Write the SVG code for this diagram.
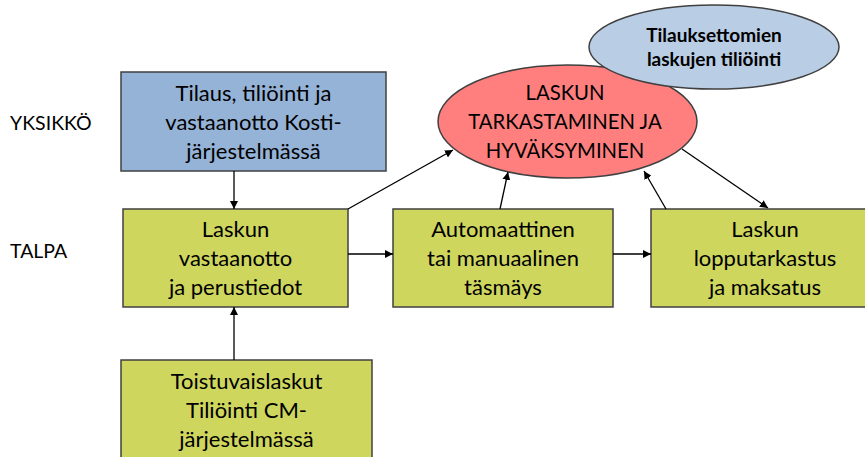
<svg xmlns="http://www.w3.org/2000/svg" width="865" height="457" viewBox="0 0 865 457">
<style>
text{font-family:Lato,"Open Sans","Liberation Sans",sans-serif;font-size:22px;fill:#000;text-anchor:middle}
.lbl{text-anchor:start;font-size:19.5px}
.cap{font-size:20.3px}
.b{font-weight:bold;font-size:19px}
.box{stroke:#404040;stroke-width:1.5}
.g{fill:#CED65E}
.conn line{stroke:#000;stroke-width:1.3;marker-end:url(#ah)}
</style>
<defs>
<marker id="ah" viewBox="0 0 10 10" refX="10" refY="5" markerWidth="8" markerHeight="8" markerUnits="userSpaceOnUse" orient="auto">
<path d="M0,0 L10,5 L0,10 z" fill="#000"/>
</marker>
</defs>
<rect width="865" height="457" fill="#fff"/>
<text class="lbl" x="10" y="130">YKSIKKÖ</text>
<text class="lbl" x="10" y="258">TALPA</text>
<g id="kosti">
<rect class="box" x="121" y="72" width="265" height="99" fill="#95B3D7"/>
<text x="253.5" y="101">Tilaus, tiliöinti ja</text>
<text x="253.5" y="130">vastaanotto Kosti-</text>
<text x="253.5" y="159">järjestelmässä</text>
</g>
<g id="vastaanotto">
<rect class="box g" x="123" y="209" width="225" height="98"/>
<text x="235.5" y="237">Laskun</text>
<text x="235.5" y="266">vastaanotto</text>
<text x="235.5" y="295">ja perustiedot</text>
</g>
<g id="tasmays">
<rect class="box g" x="393" y="209" width="220" height="98"/>
<text x="503" y="237">Automaattinen</text>
<text x="503" y="266">tai manuaalinen</text>
<text x="503" y="295">täsmäys</text>
</g>
<g id="lopputarkastus">
<rect class="box g" x="651" y="209" width="230" height="98"/>
<text x="765" y="237">Laskun</text>
<text x="765" y="266">lopputarkastus</text>
<text x="765" y="295">ja maksatus</text>
</g>
<g id="toistuvais">
<rect class="box g" x="121" y="360" width="251" height="110"/>
<text x="246.5" y="389">Toistuvaislaskut</text>
<text x="246.5" y="418">Tiliöinti CM-</text>
<text x="246.5" y="447">järjestelmässä</text>
</g>
<g id="tarkastaminen">
<ellipse class="box" cx="567.5" cy="121.5" rx="129.5" ry="56.5" fill="#FF7F7F"/>
<text class="cap" x="565" y="100">LASKUN</text>
<text class="cap" x="565" y="129">TARKASTAMINEN JA</text>
<text class="cap" x="565" y="158">HYVÄKSYMINEN</text>
</g>
<g id="tilauksettomat">
<ellipse class="box" cx="714" cy="47" rx="125" ry="42" fill="#B9CDE5"/>
<text class="b" x="714" y="42">Tilauksettomien</text>
<text class="b" x="714" y="66">laskujen tiliöinti</text>
</g>
<g class="conn" id="connectors">
<line x1="234" y1="171" x2="234" y2="209"/>
<line x1="234" y1="360" x2="234" y2="307"/>
<line x1="348" y1="254" x2="393" y2="254"/>
<line x1="348" y1="209" x2="453" y2="150"/>
<line x1="500" y1="209" x2="508" y2="172"/>
<line x1="613" y1="254" x2="651" y2="254"/>
<line x1="666" y1="209" x2="644" y2="171"/>
<line x1="682" y1="149" x2="768" y2="208"/>
</g>
</svg>
